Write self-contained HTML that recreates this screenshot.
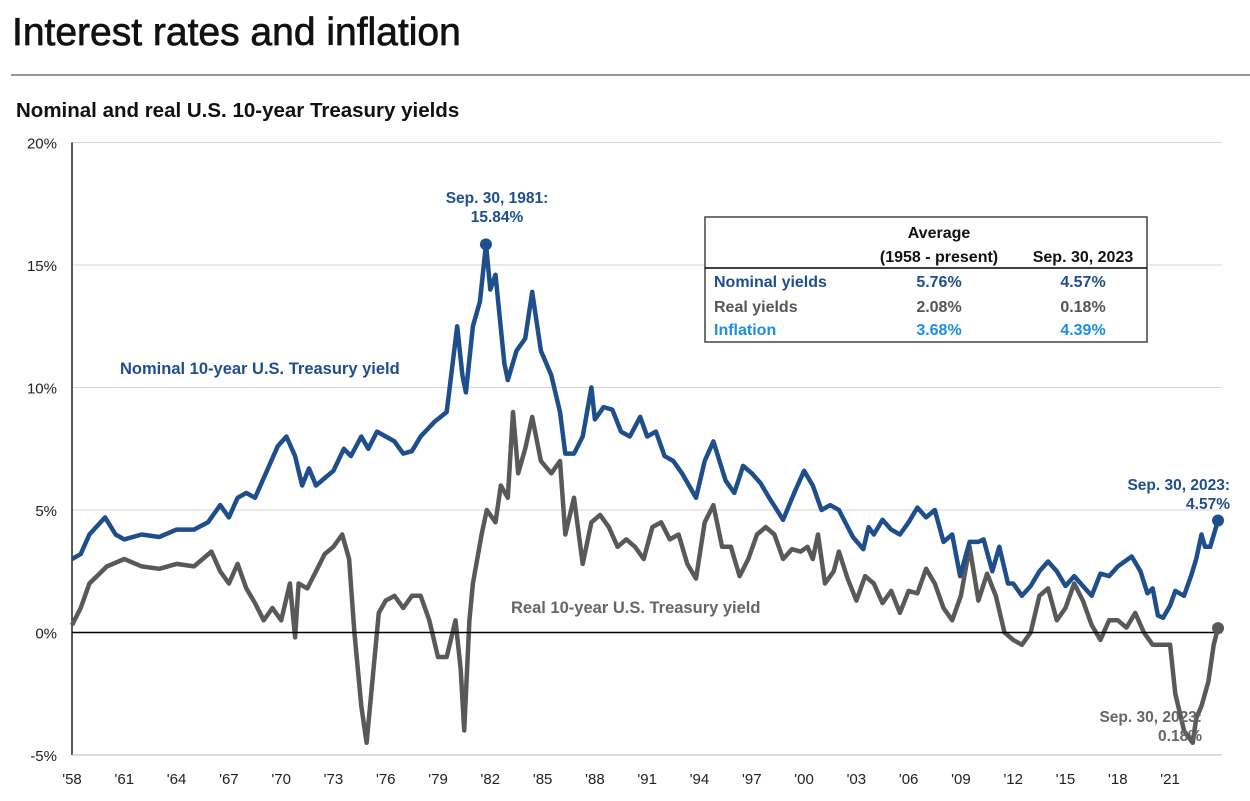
<!DOCTYPE html>
<html><head><meta charset="utf-8"><style>
html,body{margin:0;padding:0;background:#fff;}
body{width:1250px;height:796px;overflow:hidden;font-family:"Liberation Sans",sans-serif;}
</style></head><body>
<svg id="chart" width="1250" height="796" xmlns="http://www.w3.org/2000/svg" font-family="Liberation Sans, sans-serif">
<text x="12" y="45" font-size="39" fill="#111" stroke="#111" stroke-width="0.7">Interest rates and inflation</text>
<line x1="11" y1="75" x2="1250" y2="75" stroke="#777" stroke-width="1.5"/>
<text x="16" y="117" font-size="20.5" font-weight="bold" fill="#111">Nominal and real U.S. 10-year Treasury yields</text>
<g id="grid"></g>
<g id="series"></g>
<g id="annos">
<text x="497" y="203" font-size="15.5" font-weight="bold" fill="#1f4e8c" text-anchor="middle">Sep. 30, 1981:</text>
<text x="497" y="222" font-size="15.5" font-weight="bold" fill="#1f4e8c" text-anchor="middle">15.84%</text>
<text x="120" y="374" font-size="16.5" font-weight="bold" fill="#1f4e8c">Nominal  10-year U.S. Treasury yield</text>
<text x="511" y="613" font-size="16.5" font-weight="bold" fill="#666">Real 10-year U.S. Treasury yield</text>
<text x="1230" y="490" font-size="15.5" font-weight="bold" fill="#1f4e8c" text-anchor="end">Sep. 30, 2023:</text>
<text x="1230" y="509" font-size="15.5" font-weight="bold" fill="#1f4e8c" text-anchor="end">4.57%</text>
<text x="1202" y="722" font-size="15.5" font-weight="bold" fill="#666" text-anchor="end">Sep. 30, 2023:</text>
<text x="1202" y="741" font-size="15.5" font-weight="bold" fill="#666" text-anchor="end">0.18%</text>
</g>
<g>
<rect x="705" y="217" width="442" height="125" fill="#fff" stroke="#444" stroke-width="1.5"/>
<line x1="705" y1="268" x2="1147" y2="268" stroke="#000" stroke-width="1.5"/>
<g font-size="16" font-weight="bold" text-anchor="middle">
<text x="939" y="238" fill="#111">Average</text>
<text x="939" y="262" fill="#111">(1958 - present)</text>
<text x="1083" y="262" fill="#111">Sep. 30, 2023</text>
<text x="714" y="287" fill="#1f4e8c" text-anchor="start">Nominal yields</text>
<text x="939" y="287" fill="#1f4e8c">5.76%</text>
<text x="1083" y="287" fill="#1f4e8c">4.57%</text>
<text x="714" y="312" fill="#555" text-anchor="start">Real yields</text>
<text x="939" y="312" fill="#555">2.08%</text>
<text x="1083" y="312" fill="#555">0.18%</text>
<text x="714" y="335" fill="#1a8fe8" text-anchor="start">Inflation</text>
<text x="939" y="335" fill="#1a8fe8">3.68%</text>
<text x="1083" y="335" fill="#1a8fe8">4.39%</text>
</g>
</g>
</svg>
<script>
const yTicks=[-5,0,5,10,15,20];
const yTickLabels=["-5%","0%","5%","10%","15%","20%"];
const xTickYears=[1958,1961,1964,1967,1970,1973,1976,1979,1982,1985,1988,1991,1994,1997,2000,2003,2006,2009,2012,2015,2018,2021];
const nomT=[1958,1958.5,1959,1959.9,1960.5,1961,1962,1963,1964,1965,1965.8,1966.5,1967,1967.5,1968,1968.5,1969,1969.8,1970.3,1970.8,1971.2,1971.6,1972,1972.5,1973,1973.6,1974,1974.6,1975,1975.5,1976,1976.5,1977,1977.5,1978,1978.8,1979.5,1980.1,1980.4,1980.6,1981,1981.4,1981.75,1982,1982.3,1982.8,1983,1983.5,1984,1984.4,1984.9,1985.5,1986,1986.3,1986.8,1987.3,1987.8,1988,1988.5,1989,1989.5,1990,1990.6,1991,1991.5,1992,1992.5,1993,1993.8,1994.3,1994.8,1995.5,1996,1996.5,1997,1997.5,1998,1998.8,1999.5,2000,2000.5,2001,2001.5,2002,2002.8,2003.4,2003.7,2004,2004.5,2005,2005.5,2006,2006.5,2007,2007.5,2008,2008.5,2008.95,2009.5,2010,2010.3,2010.8,2011.2,2011.7,2012,2012.5,2013,2013.5,2014,2014.5,2015,2015.5,2016,2016.5,2017,2017.5,2018,2018.8,2019.3,2019.7,2020,2020.3,2020.6,2021,2021.3,2021.8,2022.2,2022.5,2022.8,2023,2023.3,2023.75];
const nomV=[3.0,3.2,4.0,4.7,4.0,3.8,4.0,3.9,4.2,4.2,4.5,5.2,4.7,5.5,5.7,5.5,6.3,7.6,8.0,7.2,6.0,6.7,6.0,6.3,6.6,7.5,7.2,8.0,7.5,8.2,8.0,7.8,7.3,7.4,8.0,8.6,9.0,12.5,10.5,9.8,12.5,13.5,15.84,14.0,14.6,11.0,10.3,11.5,12.0,13.9,11.5,10.5,9.0,7.3,7.3,8.0,10.0,8.7,9.2,9.1,8.2,8.0,8.8,8.0,8.2,7.2,7.0,6.5,5.5,7.0,7.8,6.2,5.7,6.8,6.5,6.1,5.5,4.6,5.8,6.6,6.0,5.0,5.2,5.0,3.9,3.4,4.3,4.0,4.6,4.2,4.0,4.5,5.1,4.7,5.0,3.7,4.0,2.3,3.7,3.7,3.8,2.5,3.5,2.0,2.0,1.5,1.9,2.5,2.9,2.5,1.9,2.3,1.9,1.5,2.4,2.3,2.7,3.1,2.5,1.6,1.8,0.7,0.6,1.1,1.7,1.5,2.3,3.0,4.0,3.5,3.5,4.57];
const realT=[1958,1958.5,1959,1960,1961,1962,1963,1964,1965,1966,1966.5,1967,1967.5,1968,1968.5,1969,1969.5,1970,1970.5,1970.8,1971,1971.5,1972,1972.5,1973,1973.5,1973.9,1974.2,1974.6,1974.9,1975.3,1975.6,1976,1976.5,1977,1977.5,1978,1978.5,1979,1979.5,1980,1980.3,1980.5,1980.8,1981,1981.5,1981.8,1982.3,1982.6,1983,1983.3,1983.6,1984,1984.4,1984.9,1985.5,1986,1986.3,1986.8,1987.3,1987.8,1988.3,1988.8,1989.3,1989.8,1990.3,1990.8,1991.3,1991.8,1992.3,1992.8,1993.3,1993.8,1994.3,1994.8,1995.3,1995.8,1996.3,1996.8,1997.3,1997.8,1998.3,1998.8,1999.3,1999.8,2000.2,2000.5,2000.8,2001.2,2001.7,2002,2002.5,2003,2003.5,2004,2004.5,2005,2005.5,2006,2006.5,2007,2007.5,2008,2008.5,2009,2009.5,2010,2010.5,2011,2011.5,2012,2012.5,2013,2013.5,2014,2014.5,2015,2015.5,2016,2016.5,2017,2017.5,2018,2018.5,2019,2019.5,2020,2020.5,2021,2021.3,2021.8,2022.3,2022.5,2022.8,2023.2,2023.5,2023.75];
const realV=[0.3,1.0,2.0,2.7,3.0,2.7,2.6,2.8,2.7,3.3,2.5,2.0,2.8,1.8,1.2,0.5,1.0,0.5,2.0,-0.2,2.0,1.8,2.5,3.2,3.5,4.0,3.0,0.0,-3.0,-4.5,-1.5,0.8,1.3,1.5,1.0,1.5,1.5,0.5,-1.0,-1.0,0.5,-1.5,-4.0,0.5,2.0,4.0,5.0,4.5,6.0,5.5,9.0,6.5,7.5,8.8,7.0,6.5,7.0,4.0,5.5,2.8,4.5,4.8,4.3,3.5,3.8,3.5,3.0,4.3,4.5,3.8,4.0,2.8,2.2,4.5,5.2,3.5,3.5,2.3,3.0,4.0,4.3,4.0,3.0,3.4,3.3,3.5,3.0,4.0,2.0,2.5,3.3,2.2,1.3,2.3,2.0,1.2,1.7,0.8,1.7,1.6,2.6,2.0,1.0,0.5,1.5,3.5,1.3,2.4,1.5,0.0,-0.3,-0.5,0.0,1.5,1.8,0.5,1.0,2.0,1.3,0.3,-0.3,0.5,0.5,0.2,0.8,0.0,-0.5,-0.5,-0.5,-2.5,-4.0,-4.5,-3.5,-3.0,-2.0,-0.5,0.18];

const NS="http://www.w3.org/2000/svg";
const X0=72, XPY=17.43, Y0=632.5, YPP=24.5;
const xs=t=>X0+(t-1958)*XPY;
const ys=v=>Y0-v*YPP;
const grid=document.getElementById('grid'), series=document.getElementById('series');
function mk(tag,attrs,parent){const e=document.createElementNS(NS,tag);for(const k in attrs)e.setAttribute(k,attrs[k]);parent.appendChild(e);return e;}
yTicks.forEach((v,i)=>{
  if(v!==0 && v!==-5){const g=mk('line',{x1:X0,x2:1222,y1:ys(v),y2:ys(v),stroke:'#d6d6d6','stroke-width':1},grid);
  
  }
  const t=mk('text',{x:57,y:ys(v)+6,'font-size':15,'text-anchor':'end',fill:'#222'},grid);
  t.textContent=yTickLabels[i];
  
  
});
const ax=mk('line',{x1:X0,x2:X0,y1:ys(20),y2:ys(-5),stroke:'#222','stroke-width':1.5},grid);


const bx=mk('line',{x1:X0,x2:1222,y1:ys(-5),y2:ys(-5),stroke:'#bbb','stroke-width':1},grid);


xTickYears.forEach(y=>{
  const t=mk('text',{x:xs(y),y:784,'font-size':15,'text-anchor':'middle',fill:'#222'},grid);
  t.textContent="'"+String(y).slice(2);
  
  
});
function line(T,V,color,name){
  const d=T.map((t,i)=>(i?'L':'M')+xs(t).toFixed(1)+','+ys(V[i]).toFixed(1)).join('');
  const p=mk('path',{d:d,fill:'none',stroke:color,'stroke-width':4.5,'stroke-linejoin':'round'},series);
  
  
}
line(realT,realV,'#595959','real-yield-line');
line(nomT,nomV,'#1f4e8c','nominal-yield-line');
const zl=mk('line',{x1:X0,x2:1222,y1:ys(0),y2:ys(0),stroke:'#000','stroke-width':1.5},series);


function dot(t,v,c,name){const d=mk('circle',{cx:xs(t),cy:ys(v),r:6,fill:c},series);

}
dot(nomT[nomV.indexOf(Math.max(...nomV))],Math.max(...nomV),'#1f4e8c','peak-marker');
dot(nomT[nomT.length-1],nomV[nomV.length-1],'#1f4e8c','nominal-end-marker');
dot(realT[realT.length-1],realV[realV.length-1],'#595959','real-end-marker');
</script>
</body></html>
